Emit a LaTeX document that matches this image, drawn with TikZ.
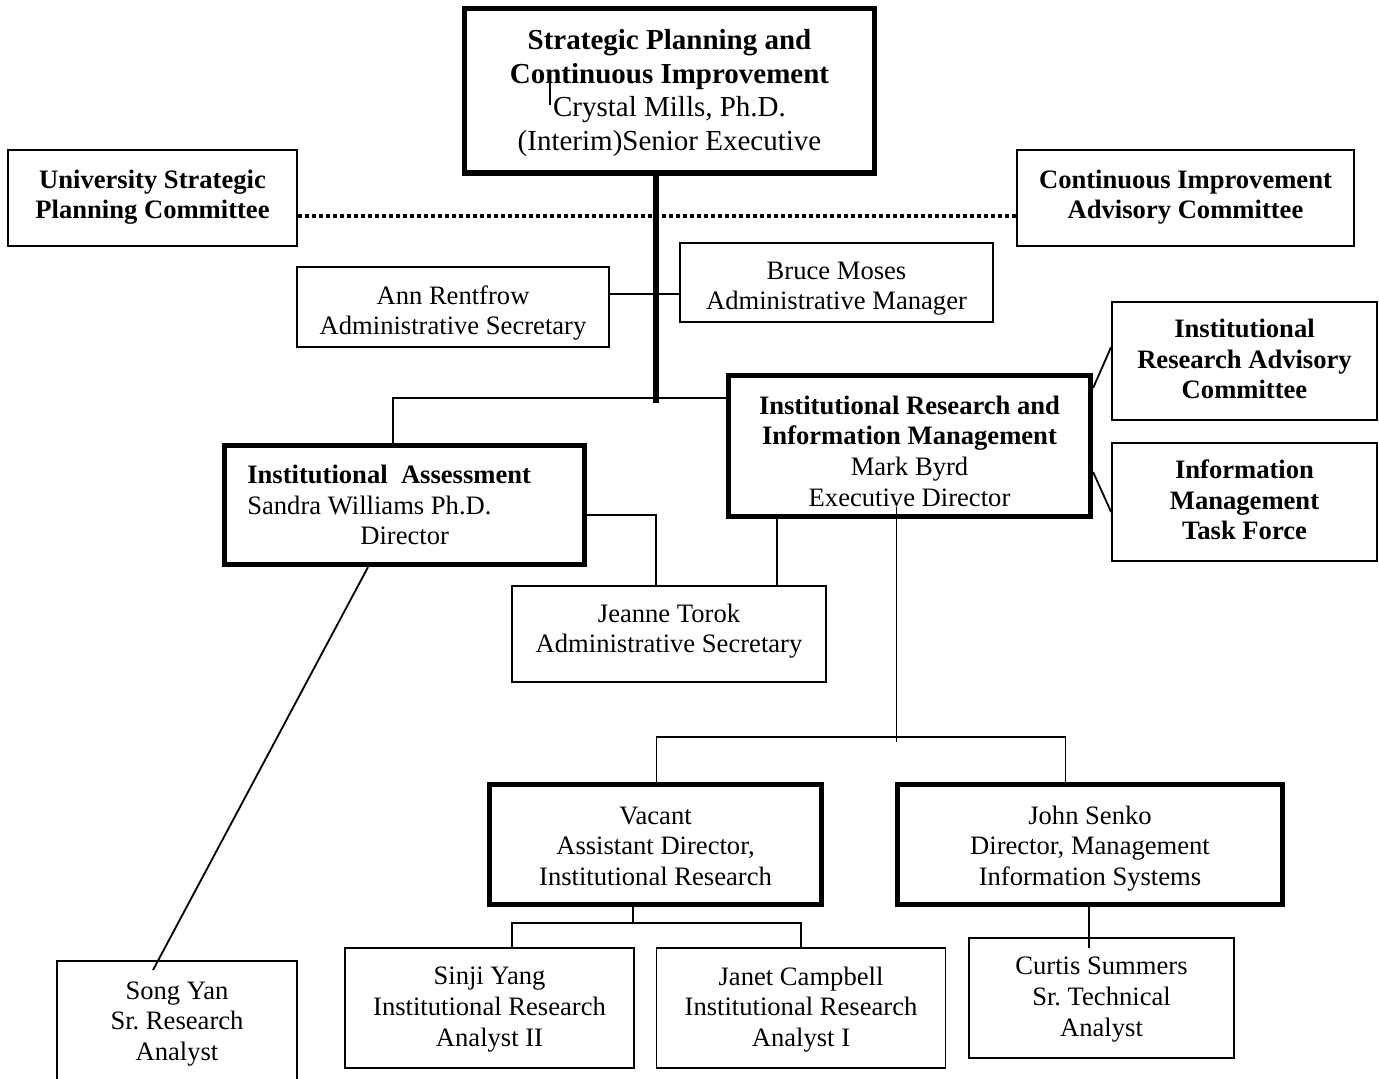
\documentclass[tikz,border=0pt]{standalone}
\usepackage{fontspec}
\setmainfont{Liberation Serif}
\frenchspacing
\begin{document}
\begin{tikzpicture}[x=0.5pt,y=-0.5pt,
  box/.style={draw, line width=0.9pt, inner sep=0pt},
  thickbox/.style={box, line width=2.6pt},
  txt/.style={inner sep=0pt, align=center, font=\fontsize{13.3}{15.3}\selectfont\frenchspacing},
  conn/.style={line width=0.9pt},
  spine/.style={line width=2.8pt},
  dotline/.style={line width=2pt, dash pattern=on 2pt off 1.5pt}]
\useasboundingbox (0,0) rectangle (1379,1078);
% boxes
\node[thickbox, minimum width=205pt, minimum height=82.25pt] (top) at (669.5,90.75) {};
\node[box, minimum width=144.5pt, minimum height=48pt] (uspc) at (152.5,198) {};
\node[box, minimum width=168.5pt, minimum height=48pt] (ciac) at (1185.5,198) {};
\node[box, minimum width=156pt, minimum height=40pt] (ann) at (453,307) {};
\node[box, minimum width=156.5pt, minimum height=39.5pt] (bruce) at (836.5,282.5) {};
\node[thickbox, minimum width=181pt, minimum height=70.5pt] (irim) at (909.5,446) {};
\node[box, minimum width=132.5pt, minimum height=59pt] (irac) at (1244.5,361) {};
\node[box, minimum width=132.5pt, minimum height=59pt] (imtf) at (1244.5,502) {};
\node[thickbox, minimum width=180pt, minimum height=59.5pt] (ia) at (404.5,505) {};
\node[box, minimum width=157pt, minimum height=48pt] (jeanne) at (669,634) {};
\node[thickbox, minimum width=166pt, minimum height=60pt] (vacant) at (655.5,844.5) {};
\node[thickbox, minimum width=192.5pt, minimum height=60pt] (js) at (1090,844.5) {};
\node[box, minimum width=120pt, minimum height=60pt] (song) at (177,1021) {};
\node[box, minimum width=144.5pt, minimum height=60pt] (sinji) at (489.5,1008) {};
\node[box, minimum width=144.5pt, minimum height=60pt] (janet) at (801,1008) {};
\node[box, minimum width=132.5pt, minimum height=60pt] (curtis) at (1101.5,998) {};
% texts
\node[txt, font=\fontsize{14.5}{16.75}\selectfont] (topT) at ([yshift=-1.25pt]top.center)
  {\textbf{Strategic Planning and}\\\textbf{Continuous Improvement}\\Crystal Mills, Ph.D.\\(Interim)Senior Executive};
\node[txt] (uspcT) at ([yshift=0.5pt]uspc.center) {\textbf{University Strategic}\\\textbf{Planning Committee}};
\node[txt] (ciacT) at ([yshift=0.5pt]ciac.center) {\textbf{Continuous Improvement}\\\textbf{Advisory Committee}};
\node[txt] (annT) at ([yshift=-3pt]ann.center) {Ann Rentfrow\\Administrative Secretary};
\node[txt] (bruceT) at ([yshift=-3pt]bruce.center) {Bruce Moses\\Administrative Manager};
\node[txt] (irimT) at ([yshift=-2.5pt]irim.center)
  {\textbf{Institutional Research and}\\\textbf{Information Management}\\Mark Byrd\\Executive Director};
\node[txt] (iracT) at ([yshift=1pt]irac.center) {\textbf{Institutional}\\\textbf{Research Advisory}\\\textbf{Committee}};
\node[txt] (imtfT) at ([yshift=1pt]imtf.center) {\textbf{Information}\\\textbf{Management}\\\textbf{Task Force}};
\node[txt, align=flush left, anchor=west] (iaT) at ([xshift=12.5pt]ia.west)
  {\textbf{Institutional\ \ Assessment}\\Sandra Williams Ph.D.\\\hspace*{56.5pt}Director};
\node[txt] (jeanneT) at ([yshift=1.5pt]jeanne.center) {Jeanne Torok\\Administrative Secretary};
\node[txt] (vacantT) at ([yshift=-0.75pt]vacant.center) {Vacant\\Assistant Director,\\Institutional Research};
\node[txt] (jsT) at ([yshift=-2pt]js.center) {John Senko\\Director, Management\\Information Systems};
\node[txt] (songT) at ([yshift=-1.5pt]song.center) {Song Yan\\Sr. Research\\Analyst};
\node[txt] (sinjiT) at ([yshift=-0.75pt]sinji.center) {Sinji Yang\\Institutional Research\\Analyst II};
\node[txt] (janetT) at ([yshift=-0.75pt]janet.center) {Janet Campbell\\Institutional Research\\Analyst I};
\node[txt] (curtisT) at ([yshift=-0.75pt]curtis.center) {Curtis Summers\\Sr. Technical\\Analyst};
% helper coordinates
\coordinate (sp) at (656,403);
\coordinate (dl) at (0,216);
\coordinate (ab) at (0,294);
\coordinate (hz1) at (393,398);
\coordinate (j1) at (656,515);
\coordinate (j2) at (777,0);
\coordinate (sy) at (153,970);
\coordinate (iaS) at (368,0);
\coordinate (m1) at (896.5,507);
\coordinate (m2) at (896.5,742);
\coordinate (h2l) at (656.5,737);
\coordinate (h2r) at (1065.5,737);
\coordinate (v1) at (633,923);
\coordinate (h3l) at (512,923);
\coordinate (h3r) at (801,923);
\coordinate (c1) at (1089,948);
\coordinate (r1) at (0,388);
\coordinate (r2) at (0,347);
\coordinate (r3) at (0,472);
\coordinate (r4) at (0,512);
\coordinate (stubA) at (550,83);
\coordinate (stubB) at (550,105);
% connectors
\draw[dotline] (uspc.east |- dl) -- (ciac.west |- dl);
\draw[spine] (top.south -| sp) -- (sp);
\draw[conn] (ann.east |- ab) -- (bruce.west |- ab);
\draw[conn] (ia.north -| hz1) -- (hz1) -- (irim.west |- hz1);
\draw[conn] (ia.east |- j1) -- (j1) -- (jeanne.north -| j1);
\draw[conn] (irim.south -| j2) -- (jeanne.north -| j2);
\draw[conn] (ia.south -| iaS) -- (sy);
\draw[conn] (m1) -- (m2);
\draw[conn] (vacant.north -| h2l) -- (h2l) -- (h2r) -- (js.north -| h2r);
\draw[conn] (vacant.south -| v1) -- (v1);
\draw[conn] (sinji.north -| h3l) -- (h3l) -- (h3r) -- (janet.north);
\draw[conn] (js.south -| c1) -- (c1);
\draw[conn] (irim.east |- r1) -- (irac.west |- r2);
\draw[conn] (irim.east |- r3) -- (imtf.west |- r4);
\draw[line width=0.7pt] (stubA) -- (stubB);
\end{tikzpicture}
\end{document}
